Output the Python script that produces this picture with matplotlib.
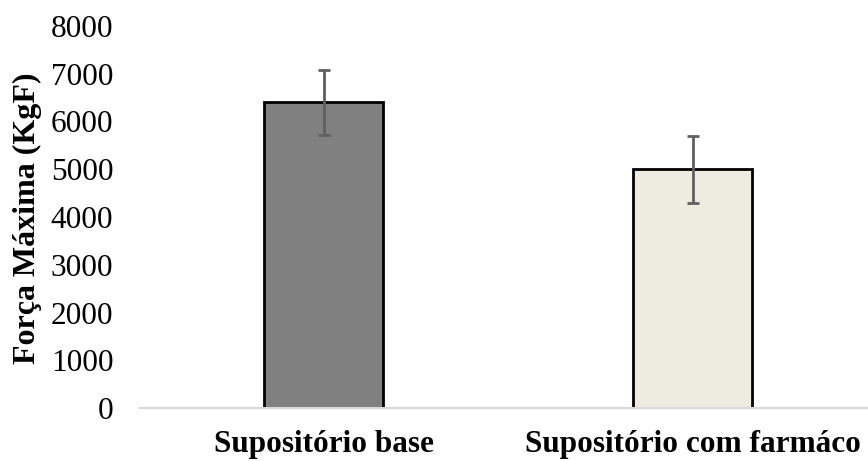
import matplotlib.pyplot as plt

categories = ["Supositório base", "Supositório com farmáco"]
forca = [6400, 5000]
erro = [680, 700]
cores = ["#808080", "#eeece1"]

plt.rcParams['font.family'] = ['Liberation Serif', 'DejaVu Serif']

fig = plt.figure(figsize=(8.68, 4.61), dpi=100)
ax = fig.add_axes([139/868, 53/461, 738/868, (408-26)/461])

x = range(len(categories))
ax.bar(x, forca, width=0.32, color=cores, edgecolor="black", linewidth=2, zorder=2)
ax.errorbar(x, forca, yerr=erro, fmt="none", ecolor="#606060", elinewidth=2,
            capsize=4.5, capthick=2, zorder=3)

ax.set_xlim(-0.5, 1.5)
ax.set_ylim(0, 8000)
ax.set_yticks(range(0, 8001, 1000))
ax.set_xticks(list(x))
ax.set_xticklabels(categories, fontweight="bold", fontsize=22.5)
ax.tick_params(axis="y", length=0, labelsize=22.5, pad=18.5)
ax.tick_params(axis="x", length=0, pad=16)
for s in ["top", "right", "left"]:
    ax.spines[s].set_visible(False)
ax.spines["bottom"].set_color("#d9d9d9")
ax.spines["bottom"].set_linewidth(1.5)

fig.text(27/868, 1 - 218/461, "Força Máxima (KgF)", rotation=90, fontsize=23,
         fontweight="bold", ha="center", va="center")

fig.savefig("out.png", dpi=100)
